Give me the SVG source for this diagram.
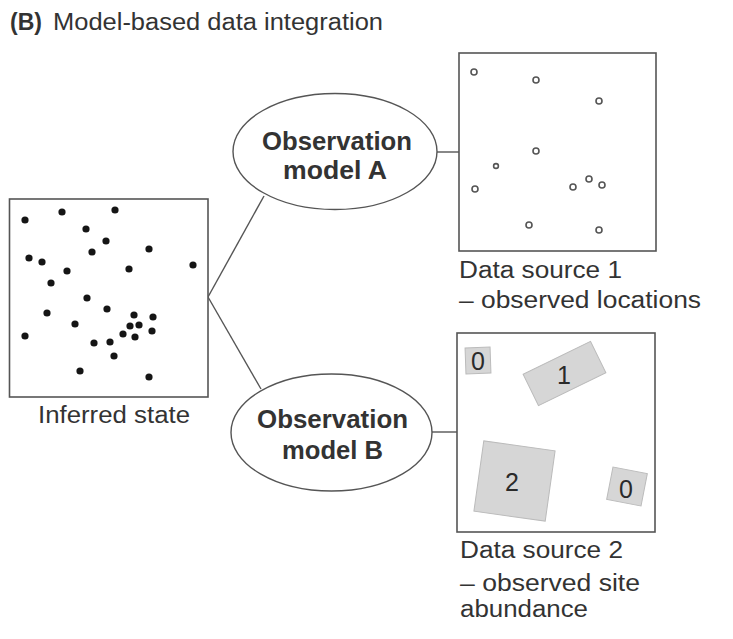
<svg xmlns="http://www.w3.org/2000/svg" width="733" height="639" viewBox="0 0 733 639">
<style>
.t{font-family:"Liberation Sans",Arial,sans-serif;font-size:23px;fill:#333}
.b{font-family:"Liberation Sans",Arial,sans-serif;font-size:26px;font-weight:bold;fill:#333;text-anchor:middle}
.box{fill:#fff;stroke:#555;stroke-width:1.6}
.ell{fill:#fff;stroke:#555;stroke-width:1.4}
.dot{fill:#151515}
.obs{fill:#fff;stroke:#555;stroke-width:1.6}
.site{fill:#d6d6d6;stroke:#bbb;stroke-width:1}
.n{font-family:"Liberation Sans",Arial,sans-serif;font-size:25px;fill:#2a2a2a;text-anchor:middle}
.c{fill:none;stroke:#555;stroke-width:1.4}
</style>
<rect width="733" height="639" fill="#fff"/>
<g id="title">
<text class="t" x="10" y="30" font-size="22" font-weight="bold" textLength="32" lengthAdjust="spacingAndGlyphs">(B)</text>
<text class="t" x="53" y="30" font-size="22" textLength="330" lengthAdjust="spacingAndGlyphs">Model-based data integration</text>
</g>
<g id="connectors">
<path class="c" d="M208,297 L264,196"/>
<path class="c" d="M208,297 L261,389"/>
<path class="c" d="M437,152 L459,152"/>
<path class="c" d="M432,432 L457,432"/>
</g>
<g id="inferred-state">
<rect class="box" x="9.5" y="199" width="198.5" height="198"/>
<g class="dot">
<circle cx="25" cy="220" r="3.6"/><circle cx="62" cy="212" r="3.6"/><circle cx="115" cy="210" r="3.6"/>
<circle cx="86" cy="229" r="3.6"/><circle cx="106" cy="241" r="3.6"/><circle cx="149" cy="249" r="3.6"/>
<circle cx="29" cy="258" r="3.6"/><circle cx="42" cy="262" r="3.6"/><circle cx="92" cy="252" r="3.6"/>
<circle cx="67" cy="271" r="3.6"/><circle cx="129" cy="269" r="3.6"/><circle cx="193" cy="265" r="3.6"/>
<circle cx="51" cy="283" r="3.6"/><circle cx="87" cy="298" r="3.6"/><circle cx="107" cy="309" r="3.6"/>
<circle cx="47" cy="313" r="3.6"/><circle cx="134" cy="315" r="3.6"/><circle cx="153" cy="317" r="3.6"/>
<circle cx="75" cy="324" r="3.6"/><circle cx="130" cy="326" r="3.6"/><circle cx="139" cy="325" r="3.6"/>
<circle cx="152" cy="331" r="3.6"/><circle cx="123" cy="334" r="3.6"/><circle cx="135" cy="337" r="3.6"/>
<circle cx="25" cy="336" r="3.6"/><circle cx="94" cy="343" r="3.6"/><circle cx="110" cy="342" r="3.6"/>
<circle cx="114" cy="356" r="3.6"/><circle cx="80" cy="371" r="3.6"/><circle cx="149" cy="377" r="3.6"/>
</g>
<text class="t" x="38" y="423" textLength="152" lengthAdjust="spacingAndGlyphs">Inferred state</text>
</g>
<g id="model-a">
<ellipse class="ell" cx="335" cy="151.5" rx="102" ry="58"/>
<text class="b" x="337" y="150" textLength="150" lengthAdjust="spacingAndGlyphs">Observation</text>
<text class="b" x="335" y="179" textLength="104" lengthAdjust="spacingAndGlyphs">model A</text>
</g>
<g id="model-b">
<ellipse class="ell" cx="331.5" cy="432.5" rx="100.5" ry="58.5"/>
<text class="b" x="332.5" y="428" textLength="151" lengthAdjust="spacingAndGlyphs">Observation</text>
<text class="b" x="332.5" y="459" textLength="101" lengthAdjust="spacingAndGlyphs">model B</text>
</g>
<g id="data-source-1">
<rect class="box" x="459" y="53" width="197" height="198"/>
<g class="obs">
<circle cx="474" cy="72" r="3"/><circle cx="536" cy="80" r="3"/><circle cx="599" cy="101" r="3"/>
<circle cx="536" cy="151" r="3"/><circle cx="496" cy="166" r="2.4"/><circle cx="475" cy="189" r="3"/>
<circle cx="573" cy="187" r="3"/><circle cx="589" cy="179" r="3"/><circle cx="602" cy="185" r="3"/>
<circle cx="529" cy="225" r="3"/><circle cx="599" cy="230" r="3"/>
</g>
<text class="t" x="459" y="278" textLength="163" lengthAdjust="spacingAndGlyphs">Data source 1</text>
<text class="t" x="459" y="308" textLength="242" lengthAdjust="spacingAndGlyphs">– observed locations</text>
</g>
<g id="data-source-2">
<rect class="box" x="457" y="333" width="198" height="199"/>
<rect class="site" x="-12.5" y="-13" width="25" height="26" transform="translate(478,360.5) rotate(-2)"/>
<rect class="site" x="-37.5" y="-17.5" width="75" height="35" transform="translate(564.5,373.5) rotate(-26)"/>
<rect class="site" x="-36" y="-35.5" width="72" height="71" transform="translate(514.5,481) rotate(8)"/>
<rect class="site" x="-17.5" y="-16.5" width="35" height="33" transform="translate(627,486.5) rotate(11)"/>
<text class="n" x="478" y="370">0</text>
<text class="n" x="564" y="384">1</text>
<text class="n" x="512" y="491">2</text>
<text class="n" x="626" y="498">0</text>
<text class="t" x="460" y="558" textLength="163" lengthAdjust="spacingAndGlyphs">Data source 2</text>
<text class="t" x="460" y="591" textLength="180" lengthAdjust="spacingAndGlyphs">– observed site</text>
<text class="t" x="460" y="617" textLength="128" lengthAdjust="spacingAndGlyphs">abundance</text>
</g>
</svg>
